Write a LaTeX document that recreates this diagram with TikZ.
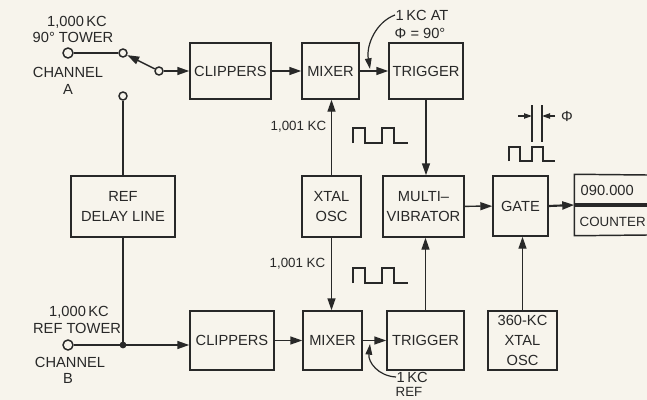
\documentclass[tikz,border=0pt]{standalone}
\usepackage{fontspec}
\setmainfont{Liberation Sans}
\usetikzlibrary{arrows.meta,calc}
\definecolor{ink}{RGB}{40,40,40}
\definecolor{paper}{RGB}{247,244,236}
\begin{document}
\begin{tikzpicture}[x=0.75pt,y=-0.75pt,line width=1.1pt,
  blk/.style={draw=ink,line width=1.1pt,inner sep=0pt,align=center,text=ink,
    font=\fontsize{11}{15}\selectfont},
  lbl/.style={inner sep=0pt,text=ink,align=center,font=\fontsize{11}{13}\selectfont},
  slbl/.style={inner sep=0pt,text=ink,align=center,font=\fontsize{10}{12}\selectfont},
  term/.style={circle,draw=ink,line width=1.1pt,fill=paper,inner sep=0pt,minimum size=8*0.75pt},
  arr/.style={draw=ink,-{Triangle[length=9pt,width=6pt]}},
  ln/.style={draw=ink},
  wave/.style={draw=ink,line width=1.3pt,line join=miter}]
\useasboundingbox (0,0) rectangle (647,400);
\fill[paper] (0,0) rectangle (647,400);

% ---- blocks ----
\node[blk,minimum width=81*0.75pt,minimum height=56*0.75pt] (clip1) at (230.5,71) {CLIPPERS};
\node[blk,minimum width=57*0.75pt,minimum height=56*0.75pt] (mix1) at (330.5,71) {MIXER};
\node[blk,minimum width=74*0.75pt,minimum height=56*0.75pt] (trig1) at (426,71) {TRIGGER};
\node[blk,minimum width=104*0.75pt,minimum height=61*0.75pt] (delay) at (123,206.5) {REF\\DELAY LINE};
\node[blk,minimum width=59*0.75pt,minimum height=61*0.75pt] (xtal) at (331.5,206.5) {XTAL\\OSC};
\node[blk,minimum width=81*0.75pt,minimum height=61*0.75pt] (multi) at (423.5,206.5) {MULTI--\\VIBRATOR};
\node[blk,minimum width=55*0.75pt,minimum height=60*0.75pt] (gate) at (520.5,206) {GATE};
\node[inner sep=0pt,minimum width=72*0.75pt,minimum height=60*0.75pt] (counter) at (611,205) {};
\draw[ink,line width=1.1pt] (647,175) -- (counter.north west) -- (counter.south west) -- (647,235);
\node[lbl,anchor=west] (cval) at (580,190) {090.000};
\node[lbl,anchor=west,font=\fontsize{10}{12}\selectfont] (cname) at (579,222) {COUNTER};
\node[blk,minimum width=84*0.75pt,minimum height=59*0.75pt] (clip2) at (232,340.5) {CLIPPERS};
\node[blk,minimum width=59*0.75pt,minimum height=59*0.75pt] (mix2) at (332.5,340.5) {MIXER};
\node[blk,minimum width=77*0.75pt,minimum height=59*0.75pt] (trig2) at (425.5,340.5) {TRIGGER};
\node[blk,minimum width=69*0.75pt,minimum height=59*0.75pt] (osc360) at (522.5,340.5) {360-KC\\XTAL\\OSC};

% ---- channel A switch ----
\node[term,minimum size=10*0.75pt] (ta) at (68,53) {};
\node[term] (sa) at (123,53) {};
\node[term] (sc) at (159,71) {};
\node[term] (sd) at (123,96) {};
\draw[ln] (ta) -- (sa);
\draw[arr] (sc) -- (sa);
\draw[arr] (sc) -- (clip1.west |- sc);
\draw[ln] (sd) -- (delay.north);

\node[lbl] (a1) at (77,22) {1,000\,KC};
\node[lbl] (a2) at (73,37) {90° TOWER};
\node[lbl] (a3) at (68,72) {CHANNEL};
\node[lbl] (a4) at (68,89) {A};

% ---- channel B ----
\node[term,minimum size=10*0.75pt] (tb) at (68,345) {};
\coordinate (dot) at (123,345);
\fill[ink] (dot) circle (3.4*0.75pt);
\draw[ln] (tb) -- (dot);
\draw[ln] (delay.south) -- (dot);
\draw[arr] (dot) -- (clip2.west |- dot);
\node[lbl] (b1) at (79,312) {1,000\,KC};
\node[lbl] (b2) at (77,328) {REF TOWER};
\node[lbl] (b3) at (70,362) {CHANNEL};
\node[lbl] (b4) at (68,378) {B};

% ---- signal paths ----
\draw[arr] (clip1) -- (mix1);
\draw[arr] (mix1) -- (trig1);
\draw[arr] (clip2) -- (mix2);
\draw[arr] (mix2) -- (trig2);
\draw[arr] (xtal.north) -- (xtal.north |- mix1.south);
\draw[arr] (xtal.south) -- (xtal.south |- mix2.north);
\draw[arr] (trig1.south) -- (trig1.south |- multi.north);
\draw[arr] (trig2.north) -- (trig2.north |- multi.south);
\draw[arr] (multi) -- (gate);
\draw[arr] (osc360.north) -- (osc360.north |- gate.south);
\draw[draw=ink,line width=1.6pt,-{Triangle[length=9pt,width=6pt]}] (gate.east) -- (counter.west);
\draw[ink,line width=3pt] (counter.west) -- (647,205);

\node[slbl,anchor=east] (f1) at (327,127) {1,001 KC};
\node[slbl,anchor=east] (f2) at (326,264) {1,001 KC};

% ---- waveforms ----
\draw[wave] (353,143) -- (353,128) -- (365,128) -- (365,143) -- (382,143) -- (382,128) -- (394,128) -- (394,143) -- (408,143);
\draw[wave] (353,283) -- (353,268) -- (365,268) -- (365,283) -- (382,283) -- (382,268) -- (394,268) -- (394,283) -- (408,283);
\draw[wave] (509,161) -- (509,147) -- (520,147) -- (520,161) -- (532,161) -- (532,147) -- (543,147) -- (543,161) -- (555,161);

% phase marker
\draw[ln] (532,105) -- (532,142);
\draw[ln] (542,105) -- (542,142);
\draw[draw=ink,line width=0.9pt,-{Triangle[length=6pt,width=4pt]}] (518,116) -- (532,116);
\draw[draw=ink,line width=0.9pt,-{Triangle[length=6pt,width=4pt]}] (555,116) -- (542,116);
\node[lbl] (phi) at (567,116) {Φ};

% ---- annotations ----
\node[lbl,anchor=west] (k1) at (395,15) {1\,KC AT};
\node[lbl,anchor=west] (k2) at (394,33) {Φ = 90°};
\coordinate (ka) at (370,69);
\draw[draw=ink,line width=0.9pt,-{Triangle[length=8pt,width=5pt]}] (k1.west) .. controls (376,22) and (366,45) .. (ka);

\node[lbl,anchor=west] (r1) at (396,377) {1\,KC};
\node[lbl,font=\fontsize{10}{12}\selectfont] (r2) at (409,392) {REF};
\coordinate (kb) at (370,344);
\draw[draw=ink,line width=0.9pt,-{Triangle[length=8pt,width=5pt]}] (r1.west) .. controls (378,376) and (368,362) .. (kb);
\end{tikzpicture}
\end{document}
